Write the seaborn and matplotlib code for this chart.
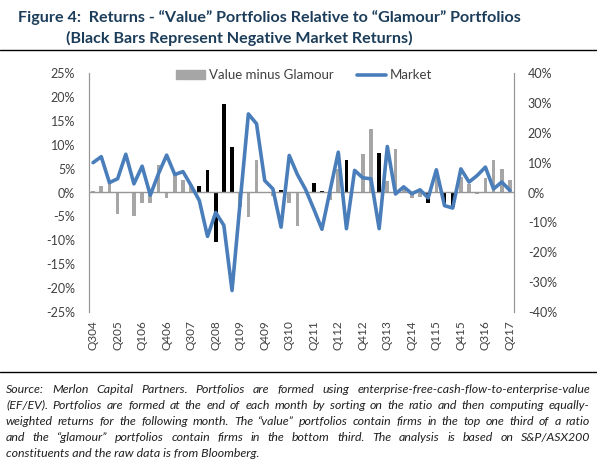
import numpy as np
import pandas as pd
import matplotlib.pyplot as plt
from matplotlib.patches import Patch
from matplotlib.lines import Line2D
import seaborn as sns

# Quarter labels Q304 ... Q217
quarters = ["Q304", "Q404",
            "Q105", "Q205", "Q305", "Q405",
            "Q106", "Q206", "Q306", "Q406",
            "Q107", "Q207", "Q307", "Q407",
            "Q108", "Q208", "Q308", "Q408",
            "Q109", "Q209", "Q309", "Q409",
            "Q110", "Q210", "Q310", "Q410",
            "Q111", "Q211", "Q311", "Q411",
            "Q112", "Q212", "Q312", "Q412",
            "Q113", "Q213", "Q313", "Q413",
            "Q114", "Q214", "Q314", "Q414",
            "Q115", "Q215", "Q315", "Q415",
            "Q116", "Q216", "Q316", "Q416",
            "Q117", "Q217"]

# Value minus Glamour (left axis, %)
value_minus_glamour = [0.4, 1.4, 2.0, -4.4, 0.1, -5.0, -2.1, -2.2, 5.7, -1.2,
                       3.6, 2.7, 1.5, 1.3, 4.7, -10.3, 18.5, 9.5, -3.1, -5.2,
                       6.7, 0.1, -0.7, 0.5, -2.2, -7.1, 0.1, 2.0, 0.35, -1.5,
                       5.0, 6.85, -0.2, 8.1, 13.2, 8.2, 2.4, 9.2, 0.8, -1.1,
                       -0.9, -2.2, 4.8, -2.4, -3.1, 3.2, 1.8, -0.4, 3.0, 6.8,
                       4.9, 2.65]

# Market return (right axis, %)
market = [10.0, 12.0, 3.3, 4.6, 12.8, 2.9, 8.8, -0.9, 6.3, 12.5,
          6.0, 7.0, 2.3, -2.7, -14.7, -6.7, -11.0, -32.8, -3.0, 26.3,
          23.0, 4.0, 1.2, -11.6, 12.4, 6.0, 1.0, -5.5, -12.3, 0.7,
          13.5, -12.1, 7.4, 4.9, 4.6, -12.1, 15.4, -0.5, 1.9, -0.4,
          0.9, -1.8, 7.6, -4.4, -5.2, 7.9, 3.5, 5.7, 8.5, 1.2,
          3.5, 0.7]

# bars drawn in black (negative market quarters)
black_bar = [False] * 13 + [True] * 5 + [False] * 5 + [True] + [False] * 3 + [True, True] + \
            [False, False, True, False, False, False, True] + [False] * 5 + [True, False, True, True] + [False] * 7

df = pd.DataFrame({"Quarter": quarters,
                   "VmG": value_minus_glamour,
                   "Market": market,
                   "Black": black_bar})
df["pos"] = np.arange(len(df))
bar_colors = {q: ("#000000" if b else "#A6A6A6") for q, b in zip(df["Quarter"], df["Black"])}

sns.set_style("white")
plt.rcParams['font.family'] = ['Lato', 'DejaVu Sans']

fig = plt.figure(figsize=(5.97, 4.61), dpi=100)
ax = fig.add_axes([89 / 597, 1 - 312 / 461, 425 / 597, 239 / 461])

sns.barplot(data=df, x="Quarter", y="VmG", hue="Quarter", palette=bar_colors,
            legend=False, width=0.45, dodge=False, ax=ax, saturation=1, linewidth=0)
ax.set_ylim(-25, 25)
ax.set_xlim(-0.5, len(df) - 0.5)
ax.set_yticks(np.arange(-25, 26, 5))
ax.set_yticklabels([f"{v}%" for v in range(-25, 26, 5)])
ax.axhline(0, color="#969696", lw=1, zorder=1)

ax2 = ax.twinx()
sns.lineplot(data=df, x="pos", y="Market", color="#4A7EBB", lw=2.6, ax=ax2)
ax2.set_ylim(-40, 40)
ax2.set_yticks(np.arange(-40, 41, 10))
ax2.set_yticklabels([f"{v}%" for v in range(-40, 41, 10)])
ax2.set_xlim(-0.5, len(df) - 0.5)

tick_idx = list(range(0, len(df), 3))
ax.set_xticks(tick_idx)
ax.set_xticklabels([quarters[i] for i in tick_idx], rotation=90)

for a in (ax, ax2):
    a.set_xlabel("")
    a.set_ylabel("")
    a.tick_params(length=0, colors="#404040", labelsize=9)
    for s in ("top", "bottom"):
        a.spines[s].set_visible(False)
    a.spines["left"].set_color("#969696")
    a.spines["right"].set_color("#969696")
ax.tick_params(axis="x", labelsize=8.5, pad=6)
ax.tick_params(axis="y", pad=10)
ax2.tick_params(axis="y", pad=10)

handles = [Patch(color="#A6A6A6", label="Value minus Glamour"),
           Line2D([0], [0], color="#4A7EBB", lw=2.6, label="Market")]
ax2.legend(handles=handles, loc="upper center", bbox_to_anchor=(0.506, 1.065), ncol=2,
           frameon=False, fontsize=9.5, handlelength=2.2, columnspacing=1.8,
           handletextpad=0.3, labelcolor="#404040")

# title and rules
title_color = "#1C3D5A"
fig.text(18 / 597, 1 - 22 / 461, "Figure 4:  Returns - \u201cValue\u201d Portfolios Relative to \u201cGlamour\u201d Portfolios",
         fontsize=11.6, fontweight="bold", color=title_color)
fig.text(66 / 597, 1 - 43 / 461, "(Black Bars Represent Negative Market Returns)",
         fontsize=11.6, fontweight="bold", color=title_color)
fig.add_artist(Line2D([0, 1], [1 - 50 / 461, 1 - 50 / 461], color="black", lw=1))
fig.add_artist(Line2D([0, 1], [1 - 372 / 461, 1 - 372 / 461], color="black", lw=1))

note = ["Source: Merlon Capital Partners. Portfolios are formed using enterprise-free-cash-flow-to-enterprise-value",
        "(EF/EV). Portfolios are formed at the end of each month by sorting on the ratio and then computing equally-",
        "weighted returns for the following month. The \u201cvalue\u201d portfolios contain firms in the top one third of a ratio",
        "and the \u201cglamour\u201d portfolios contain firms in the bottom third. The analysis is based on S&P/ASX200",
        "constituents and the raw data is from Bloomberg."]
note_kw = dict(fontsize=8.9, style="italic", color="#202020", va="center")
renderer = fig.canvas.get_renderer()
left_px, right_px = 6, 590
for k, line in enumerate(note):
    y = 1 - (389 + 16 * k) / 461
    if k == len(note) - 1:
        fig.text(left_px / 597, y, line, **note_kw)
        continue
    # justified line: spread the words over the full width
    words = line.split(" ")
    widths = []
    for w in words:
        t = fig.text(0, 0, w, **note_kw)
        widths.append(t.get_window_extent(renderer).width)
        t.remove()
    gap = (right_px - left_px - sum(widths)) / (len(words) - 1)
    x = left_px
    for w, wd in zip(words, widths):
        fig.text(x / 597, y, w, **note_kw)
        x += wd + gap

fig.savefig("out.png", dpi=100)
